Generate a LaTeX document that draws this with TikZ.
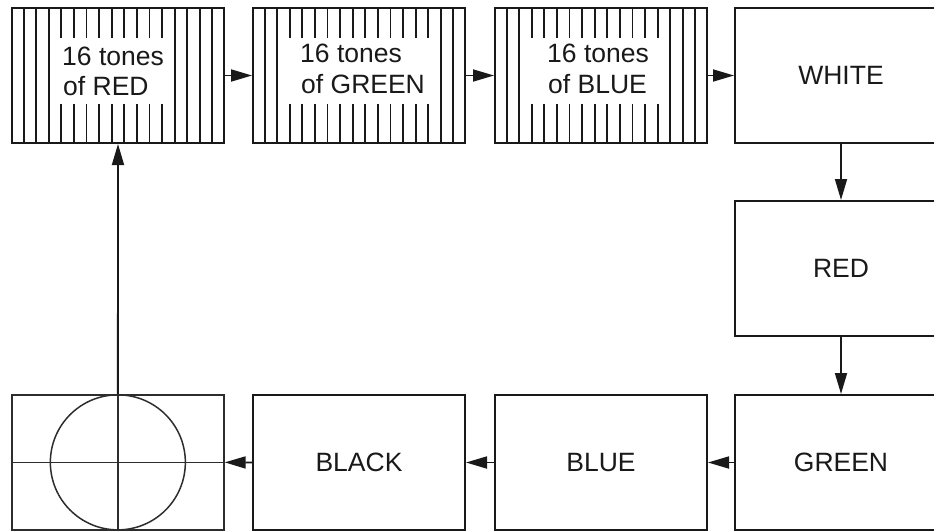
\documentclass[tikz,border=0pt]{standalone}
\usepackage{fontspec}
\setmainfont{Liberation Sans}
\usetikzlibrary{arrows.meta,calc}
\definecolor{ink}{RGB}{25,25,25}
\definecolor{softink}{RGB}{45,45,45}
\begin{document}
\begin{tikzpicture}[x=1pt,y=-1pt,
  box/.style={draw=ink, line width=2pt, minimum width=212pt, minimum height=135pt,
    inner sep=0pt, anchor=north west, font=\fontsize{26.5}{30}\selectfont, text=ink},
  stripe/.style={draw=ink, line width=1.9pt},
  thinline/.style={draw=softink, line width=1.5pt},
  flow/.style={draw=ink, line width=1.8pt, -{Triangle[length=21pt,width=12pt]}},
  lbl/.style={font=\fontsize{26.5}{30}\selectfont, text=ink, inner sep=0pt, anchor=base west},
  patch/.style={fill=white, inner sep=0pt, anchor=north west, minimum height=66pt}]
\useasboundingbox (0,0) rectangle (934,531);
\clip (0,0) rectangle (934,531);
% boxes
\node[box] (b1) at (11,7) {};
\node[box] (b2) at (252,7) {};
\node[box] (b3) at (494,7) {};
\node[box] (w) at (734,7) {WHITE};
\node[box] (r) at (734,200) {RED};
\node[box, draw=softink, line width=1.7pt] (c) at (11,394) {};
\node[box] (k) at (252,394) {BLACK};
\node[box] (bl) at (494,394) {BLUE};
\node[box] (g) at (734,394) {GREEN};
% stripes
\foreach \n in {b1,b2,b3}{
  \foreach \k in {1,...,16}{
    \draw[stripe] ($(\n.north west)!\k/17!(\n.north east)$) -- ($(\n.south west)!\k/17!(\n.south east)$);
  }
}
% white patches
\node[patch, minimum width=114pt] (p1) at (58,38) {};
\node[patch, minimum width=150pt] (p2) at (282,38) {};
\node[patch, minimum width=140pt] (p3) at (529,38) {};
% labels
\node[lbl] (t1a) at (62,65) {16 tones};
\node[lbl] (t1b) at (63,95) {of RED};
\node[lbl] (t2a) at (300,62) {16 tones};
\node[lbl] (t2b) at (301,93) {of GREEN};
\node[lbl] (t3a) at (547,62) {16 tones};
\node[lbl] (t3b) at (548,93) {of BLUE};
% test pattern
\draw[thinline] (c.center) circle[radius=67.5pt];
\draw[thinline] (c.west) -- (c.east);
\draw[thinline] (c.north) -- (c.south);
% connectors
\draw[flow] (b1.east) -- (b2.west);
\draw[flow] (b2.east) -- (b3.west);
\draw[flow] (b3.east) -- (w.west);
\draw[flow] (w.south) -- (r.north);
\draw[flow] (r.south) -- (g.north);
\draw[flow] (g.west) -- (bl.east);
\draw[flow] (bl.west) -- (k.east);
\draw[flow] (k.west) -- (c.east);
\draw[flow] (c.north) -- (b1.south);
\end{tikzpicture}
\end{document}
